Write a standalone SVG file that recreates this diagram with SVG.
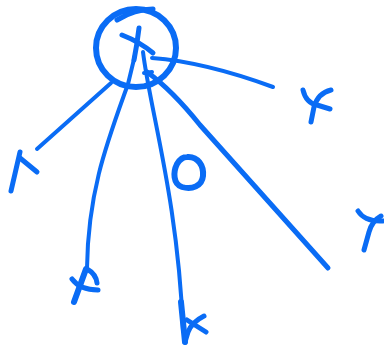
<svg xmlns="http://www.w3.org/2000/svg" width="384" height="347" viewBox="0 0 384 347">
<style>
.s{fill:none;stroke:#0a6cf5;stroke-linecap:round;stroke-linejoin:round}
.t{stroke-width:4}
.m{stroke-width:5}
.b{stroke-width:6}
</style>
<rect width="384" height="347" fill="#ffffff"/>
<g id="connectors">
<path class="s t" d="M152,58 Q205,62 273,87"/>
<path class="s t" d="M111,83 L37,149"/>
<path class="s t" d="M135,55 L128,84 C108,140 88,190 87,268"/>
<path class="s t" d="M143,52 C150,110 178,200 183,330"/>
<path class="s m" d="M147,72 C165,85 180,100 200,125 L328,268"/>
<path class="s t" d="M144,73 L152,72"/>
</g>
<g id="hub">
<ellipse class="s b" cx="136" cy="48" rx="40" ry="39"/>
<path class="s m" d="M117,20 Q135,9 153,9"/>
<path class="s m" d="M139,28 Q137,45 134,60"/>
<path class="s m" d="M122,35 Q140,42 153,53"/>
</g>
<g id="mark-top-right">
<path class="s m" d="M303,90 Q306,103 317,105 L330,109"/>
<path class="s m" d="M331,90 Q318,93 314,107 L311,122"/>
</g>
<g id="mark-left">
<path class="s m" d="M20,152 L11,191"/>
<path class="s m" d="M20,158 L37,172"/>
</g>
<g id="mark-bottom-left">
<path class="s b" d="M86,269 L74,302"/>
<path class="s m" d="M72,279 Q80,290 98,290"/>
<path class="s m" d="M87,269 Q96,274 97,283"/>
</g>
<g id="mark-bottom">
<path class="s b" d="M181,302 L185,342"/>
<path class="s m" d="M204,316 Q192,322 188,332 L185,342"/>
<path class="s m" d="M187,320 L206,332"/>
</g>
<g id="mark-right">
<path class="s m" d="M358,211 Q365,222 383,221"/>
<path class="s m" d="M381,216 Q372,221 369,232 L364,250"/>
</g>
<g id="o-mark">
<path class="s b" d="M187,157 C198,156 204,166 203,176 C202,186 192,190 182,187 C173,184 173,172 177,164 C180,159 183,157 187,157 Z"/>
</g>
</svg>
